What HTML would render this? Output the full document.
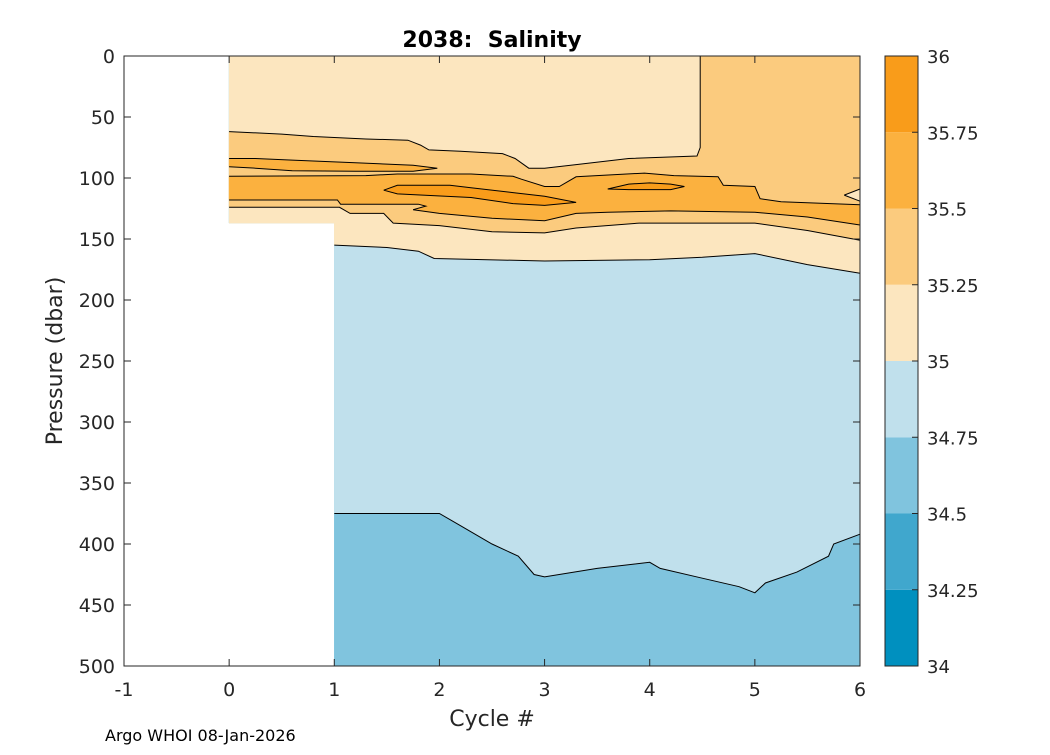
<!DOCTYPE html>
<html><head><meta charset="utf-8"><style>
html,body{margin:0;padding:0;background:#fff;}
svg text{font-family:"DejaVu Sans","Liberation Sans",sans-serif;fill:#262626;}
</style></head><body>
<svg id="chart" width="1050" height="750" viewBox="0 0 1050 750" xmlns="http://www.w3.org/2000/svg">
<rect width="1050" height="750" fill="#fff"/>
<g id="fills"></g>
<g id="lines"></g>
<g id="axes"></g>
<g id="cbar"></g>
<text x="492" y="47" font-size="22" font-weight="bold" text-anchor="middle" style="fill:#000;white-space:pre" xml:space="preserve">2038:  Salinity</text>
<text x="62" y="361" font-size="22" text-anchor="middle" transform="rotate(-90 62 361)">Pressure (dbar)</text>
<text x="492" y="726" font-size="22" text-anchor="middle">Cycle #</text>
<text x="105" y="741" font-size="16" style="fill:#000">Argo WHOI 08-Jan-2026</text>
</svg>
<script>
// ---- data ----
const xTicks = [-1,0,1,2,3,4,5,6];
const yTicks = [0,50,100,150,200,250,300,350,400,450,500];
const levels = [34,34.25,34.5,34.75,35,35.25,35.5,35.75,36];
const levelColors = ['#0090bf','#40a7cd','#80c4de','#c0e0ec','#fce6bf','#fbcb7e','#fbb13f','#f99c1a'];
const levelLabels = ['34','34.25','34.5','34.75','35','35.25','35.5','35.75','36'];
// contour boundaries: [cycle, pressure]
const iso3475 = [[1,375],[2,375],[2.2,385],[2.5,400],[2.75,410],[2.9,425],[3,427],[3.5,420],[4,415],[4.1,420],[4.5,428],[4.85,435],[5,440],[5.1,432],[5.4,423],[5.7,410],[5.75,400],[6,392]];
const iso35 = [[1,155],[1.5,157],[1.8,160],[1.95,166],[3,168],[4,167],[4.5,165],[5,162],[5.5,171],[6,178]];
const iso3525Top = [[0,62],[0.5,64],[0.8,66],[1.3,68],[1.7,69],[1.82,73],[1.9,77],[2.2,78],[2.6,80],[2.72,84],[2.85,92],[3,92],[3.3,89],[3.8,84],[4.45,82],[4.48,75],[4.48,0]];
const iso3525Bot = [[0,124],[1.05,124],[1.15,129],[1.47,129],[1.56,137],[2,139],[2.5,144],[3,145],[3.3,141],[3.9,137],[5,137],[5.5,143],[6,151]];
const iso355A = [[0,84],[0.25,84],[0.6,85.3],[1.2,87.5],[1.75,89.5],[1.98,92],[1.75,94.5],[1.2,94.5],[0.6,94],[0.25,92],[0,90.7]];
const iso355Top = [[0,98.6],[1.3,98],[1.6,96.7],[2.3,96.7],[2.7,98.6],[2.78,101],[3.0,107],[3.14,107],[3.3,99],[3.95,96],[4.23,98],[4.65,99],[4.7,106],[5.0,107],[5.05,117],[5.25,119.5],[6,122]];
const iso355Bot = [[0,118],[1.03,118],[1.06,121.5],[1.8,121.5],[1.87,123],[1.75,126],[2,129],[2.5,133],[3,135],[3.3,129],[3.6,128],[4.2,127],[5,128],[5.5,132],[6,138.5]];
const iso3575C = [[1.47,110],[1.6,106],[2.1,106],[2.3,108],[2.7,112],[3.0,115],[3.3,120],[3.0,122.5],[2.7,121],[2.3,116],[1.6,113],[1.47,110]];
const iso3575D = [[3.6,109],[3.8,105],[4.0,104],[4.2,105],[4.33,107],[4.2,109.5],[3.8,109.5],[3.6,109]];
const paleWedge = [[5.85,114],[6,109],[6,119],[5.85,114]];

// ---- scales ----
const X = c => 124 + (c + 1) * (736 / 7);
const Y = p => 56 + p * (610 / 500);
const NS = 'http://www.w3.org/2000/svg';
const mk = (tag, attrs, parent) => { const e = document.createElementNS(NS, tag); for (const k in attrs) e.setAttribute(k, attrs[k]); parent.appendChild(e); return e; };
const pts = arr => arr.map(d => X(d[0]).toFixed(1) + ',' + Y(d[1]).toFixed(1)).join(' ');
const rev = a => a.slice().reverse();
const fills = document.getElementById('fills');
const lines = document.getElementById('lines');

function fillPoly(arr, color, name) {
  const p = mk('polygon', {points: pts(arr), fill: color, stroke: color, 'stroke-width': 0.5}, fills);
  
  
}
function line(arr, name) {
  const l = mk('polyline', {points: pts(arr), fill: 'none', stroke: '#000', 'stroke-width': 1}, lines);
  
  
}
fillPoly([[0,0],[6,0],[6,500],[1,500],[1,137],[0,137]], levelColors[2], 'region-34-5');
fillPoly([[0,0],[6,0]].concat(rev(iso3475)).concat([[1,137],[0,137]]), levelColors[3], 'region-34-75');
fillPoly([[0,0],[6,0]].concat(rev(iso35)).concat([[1,137],[0,137]]), levelColors[4], 'region-35');
fillPoly(iso3525Top.concat([[6,0]]).concat(rev(iso3525Bot)), levelColors[5], 'region-35-25');
fillPoly(paleWedge, levelColors[4], 'region-35-wedge');
fillPoly(iso355A, levelColors[6], 'region-35-5-upper');
fillPoly(iso355Top.concat(rev(iso355Bot)), levelColors[6], 'region-35-5-main');
fillPoly(iso3575C, levelColors[7], 'region-35-75-a');
fillPoly(iso3575D, levelColors[7], 'region-35-75-b');

line(iso3475, 'contour-34-75');
line(iso35, 'contour-35');
line(iso3525Top, 'contour-35-25-top');
line(iso3525Bot, 'contour-35-25-bottom');
line(paleWedge, 'contour-35-25-wedge');
line(iso355A, 'contour-35-5-upper');
line(iso355Top, 'contour-35-5-top');
line(iso355Bot, 'contour-35-5-bottom');
line(iso3575C, 'contour-35-75-a');
line(iso3575D, 'contour-35-75-b');

// ---- axes ----
const axes = document.getElementById('axes');
const box = mk('rect', {x: 124, y: 56, width: 736, height: 610, fill: 'none', stroke: '#262626', 'stroke-width': 1}, axes);


xTicks.forEach(t => {
  const x = X(t);
  mk('line', {x1: x, y1: 666, x2: x, y2: 659, stroke: '#262626'}, axes);
  mk('line', {x1: x, y1: 56, x2: x, y2: 63, stroke: '#262626'}, axes);
  const tx = mk('text', {x: x, y: 696, 'font-size': 19, 'text-anchor': 'middle'}, axes);
  tx.textContent = t;
  
  
});
yTicks.forEach(t => {
  const y = Y(t);
  mk('line', {x1: 124, y1: y, x2: 131, y2: y, stroke: '#262626'}, axes);
  mk('line', {x1: 860, y1: y, x2: 853, y2: y, stroke: '#262626'}, axes);
  const tx = mk('text', {x: 115, y: y + 7, 'font-size': 19, 'text-anchor': 'end'}, axes);
  tx.textContent = t;
  
  
});

// ---- colorbar ----
const cbar = document.getElementById('cbar');
const cbY = v => 666 - (v - levels[0]) / (levels[levels.length - 1] - levels[0]) * 610;
for (let i = 0; i < levelColors.length; i++) {
  const r = mk('rect', {x: 885, y: cbY(levels[i + 1]), width: 33, height: cbY(levels[i]) - cbY(levels[i + 1]), fill: levelColors[i]}, cbar);
  
  
}
mk('rect', {x: 885, y: 56, width: 33, height: 610, fill: 'none', stroke: '#262626'}, cbar);
levels.forEach((v, i) => {
  const y = cbY(v);
  mk('line', {x1: 918, y1: y, x2: 912, y2: y, stroke: '#262626'}, cbar);
  const tx = mk('text', {x: 927, y: y + 7, 'font-size': 18}, cbar);
  tx.textContent = levelLabels[i];
  
  
});
</script>
</body></html>
